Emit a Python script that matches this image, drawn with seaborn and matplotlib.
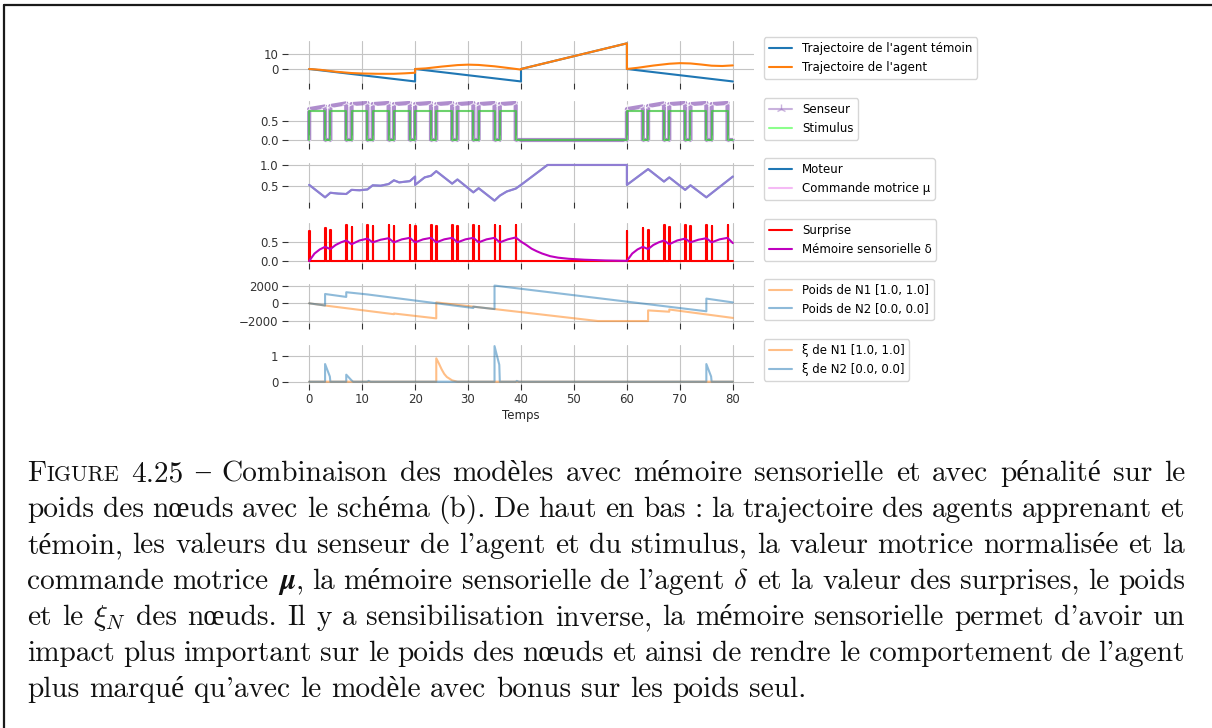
import numpy as np
import pandas as pd
import seaborn as sns
import matplotlib.pyplot as plt
from matplotlib.lines import Line2D

# ---------------------------------------------------------------- data
# trajectories
traj_ctrl_t = [0, 20, 20, 40, 40, 60, 60, 80]
traj_ctrl_y = [0, -8.3, 0, -8.3, 0, 17.1, 0, -8.3]
traj_agent_t = [0, 2, 5, 8, 10, 13, 16, 18, 20, 20, 22, 25, 28, 30, 32, 35, 38, 40,
                40, 60, 60, 62, 65, 68, 70, 72, 74, 76, 78, 80]
traj_agent_y = [0, -0.5, -1.8, -2.7, -3.0, -3.2, -3.2, -2.9, -2.5, 0, 0.4, 1.6, 2.6, 2.9,
                2.7, 1.8, 0.5, -0.4, 0, 17.1, 0, 0.8, 2.3, 3.5, 3.9, 3.7, 3.0, 2.2, 2.0, 2.4]

# stimulus on-phases and sensor readings during them
stim_on_start = [0, 4, 8, 12, 16, 20, 24, 28, 32, 36, 60, 64, 68, 72, 76]
stim_on_end = [3, 7, 11, 15, 19, 23, 27, 31, 35, 39, 63, 67, 71, 75, 79]
stim_level = 0.75
sensor_first = [0.80, 0.88, 0.93, 0.93, 0.93, 0.93, 0.93, 0.93, 0.93, 0.93,
                0.80, 0.88, 0.93, 0.93, 0.93]
sensor_last = [0.87, 0.95, 0.96, 0.96, 0.96, 0.96, 0.96, 0.96, 0.96, 0.96,
               0.87, 0.95, 0.96, 0.96, 0.96]

# motor value / motor command
motor_t = [0, 3, 4, 5.5, 7, 8, 9.5, 11, 12, 13.5, 15, 16, 17, 19, 20, 20, 21.8, 23, 24,
           27, 28, 31, 32, 35, 36, 37.3, 39, 40, 45, 60, 60, 64, 67, 68, 71, 72, 75, 80]
motor_v = [0.52, 0.22, 0.33, 0.31, 0.30, 0.40, 0.39, 0.41, 0.51, 0.50, 0.54, 0.63, 0.58,
           0.61, 0.72, 0.52, 0.70, 0.74, 0.85, 0.55, 0.65, 0.34, 0.44, 0.14, 0.26, 0.36,
           0.43, 0.52, 1.0, 1.0, 0.52, 0.90, 0.60, 0.70, 0.40, 0.51, 0.22, 0.72]

# surprise spikes and sensory memory
surprise_t = [0, 3, 4, 7, 8, 11, 12, 15, 16, 19, 20, 23, 24, 27, 28, 31, 32, 35, 36, 39,
              60, 63, 64, 67, 68, 71, 72, 75, 76, 79]
surprise_h = [0.79, 0.89, 0.83, 0.96, 0.90, 0.96, 0.94, 0.96, 0.94, 0.96, 0.94, 0.96,
              0.94, 0.96, 0.94, 0.97, 0.94, 0.97, 0.94, 0.97, 0.79, 0.89, 0.83, 0.96,
              0.90, 0.96, 0.93, 0.96, 0.94, 0.96]
memory_t = [0, 1, 2, 3, 4, 5, 6, 7, 8, 9.5, 11, 12, 13.5, 15, 16, 17.5, 19, 20, 21.5, 23,
            24, 25.5, 27, 28, 29.5, 31, 32, 33.5, 35, 36, 37.5, 39, 40, 41, 42, 43, 44,
            45.5, 47, 49, 52, 56, 60, 61, 62, 63, 64, 65, 66, 67, 68, 69.5, 71, 72, 73.5,
            75, 76, 77.5, 79, 80]
memory_v = [0, 0.2, 0.31, 0.38, 0.32, 0.43, 0.5, 0.55, 0.45, 0.55, 0.6, 0.5, 0.57, 0.61,
            0.5, 0.58, 0.62, 0.5, 0.58, 0.62, 0.5, 0.58, 0.62, 0.5, 0.58, 0.62, 0.5, 0.58,
            0.62, 0.5, 0.58, 0.63, 0.52, 0.43, 0.33, 0.26, 0.2, 0.13, 0.09, 0.06, 0.035,
            0.015, 0.005, 0.2, 0.31, 0.38, 0.32, 0.43, 0.5, 0.55, 0.45, 0.55, 0.6, 0.5,
            0.57, 0.61, 0.5, 0.58, 0.62, 0.48]

# node weights
w_n1_t = [0, 3, 16, 16, 24, 24, 31, 35, 54.5, 64, 64, 68, 68, 80]
w_n1_v = [0, -250, -1230, -1150, -1700, 100, -380, -650, -2000, -2000, -800, -950, -700, -1650]
w_n2_t = [0, 3, 3, 7, 7, 11, 31, 31, 35, 35, 75, 75, 80]
w_n2_v = [0, -250, 1050, 720, 1250, 1000, -530, -380, -650, 2000, -900, 530, 100]

# node xi
xi_n1_t = [0, 24, 24, 24.5, 25, 25.5, 26, 27, 28, 80]
xi_n1_v = [0, 0, 0.9, 0.7, 0.48, 0.3, 0.18, 0.05, 0, 0]
xi_n2_t = [0, 3, 3, 3.9, 4, 7, 7, 8, 8.3, 11, 11.2, 11.6, 35, 35, 35.9, 36, 39, 39.2,
           39.6, 75, 75, 75.9, 76, 80]
xi_n2_v = [0, 0, 0.68, 0.2, 0, 0, 0.27, 0.05, 0, 0, 0.03, 0, 0, 1.37, 0.65, 0, 0, 0.03,
           0, 0, 0.68, 0.2, 0, 0]

CAPTION_LINES = [
    "FIGURE 4.25 – Combinaison des modèles avec mémoire sensorielle et avec pénalité sur le",
    "poids des nœuds avec le schéma (b). De haut en bas : la trajectoire des agents apprenant et",
    "témoin, les valeurs du senseur de l'agent et du stimulus, la valeur motrice normalisée et la",
    r"commande motrice $\boldsymbol{\mu}$, la mémoire sensorielle de l'agent $\delta$ et la valeur des surprises, le poids",
    r"et le $\xi_N$ des nœuds. Il y a sensibilisation inverse, la mémoire sensorielle permet d'avoir un",
    "impact plus important sur le poids des nœuds et ainsi de rendre le comportement de l'agent",
    "plus marqué qu'avec le modèle avec bonus sur les poids seul.",
]

# ---------------------------------------------------------------- derived series
stim_t, stim_v, sens_t, sens_v = [0], [0], [0], [0]
for s, e, a, b in zip(stim_on_start, stim_on_end, sensor_first, sensor_last):
    stim_t += [s, s, e, e]
    stim_v += [0, stim_level, stim_level, 0]
    sens_t += [s, s, e, e]
    sens_v += [0, a, b, 0]
stim_t.append(80); stim_v.append(0)
sens_t.append(80); sens_v.append(0)

spk_t, spk_v = [0], [0]
for t, h in zip(surprise_t, surprise_h):
    spk_t += [t, t, t + 0.1, t + 0.1]
    spk_v += [0, h, h, 0]
spk_t.append(80); spk_v.append(0)

# ---------------------------------------------------------------- style
sns.set_style("whitegrid", {
    "axes.spines.left": False, "axes.spines.bottom": False,
    "axes.spines.right": False, "axes.spines.top": False,
    "grid.color": "#c4c4c4", "text.color": "black",
    "xtick.color": "#333333", "ytick.color": "#333333",
    "xtick.bottom": True, "ytick.left": True,
})
plt.rcParams["mathtext.fontset"] = "cm"
plt.rcParams["axes.unicode_minus"] = True

W, H = 1212, 728
fig = plt.figure(figsize=(W / 100, H / 100), dpi=100)
FS = 8.5


def make_axes(top, bottom):
    return fig.add_axes([288 / W, 1 - bottom / H, 466 / W, (bottom - top) / H])


def line(ax, t, v, **kw):
    df = pd.DataFrame({"t": t, "v": v})
    sns.lineplot(data=df, x="t", y="v", ax=ax, sort=False, estimator=None,
                 legend=False, **kw)


specs = [(41.4, 83.4, (-9.6, 18.4), [0, 10], 37.3),
         (101.4, 142.7, (-0.07, 1.0), [0.0, 0.5], 98.3),
         (163.1, 202.3, (0.1, 1.045), [0.5, 1.0], 158.3),
         (222.9, 262.9, (-0.05, 1.02), [0.0, 0.5], 219.3),
         (283.8, 322.8, (-2200, 2200), [-2000, 0, 2000], 279.0),
         (344.8, 383.5, (-0.07, 1.42), [0, 1], 339.3)]
axes = [make_axes(top, bot) for top, bot, *_ in specs]

line(axes[0], traj_ctrl_t, traj_ctrl_y, color="tab:blue", lw=1.5,
     label="Trajectoire de l'agent témoin")
line(axes[0], traj_agent_t, traj_agent_y, color="tab:orange", lw=1.5,
     label="Trajectoire de l'agent")

line(axes[1], sens_t, sens_v, color="tab:purple", alpha=0.75, lw=3,
     marker="2", markersize=7, label="Senseur")
line(axes[1], stim_t, stim_v, color="#3cc43c", alpha=0.75, lw=1.5, label="Stimulus")

line(axes[2], motor_t, motor_v, color="tab:blue", lw=1.5, label="Moteur")
line(axes[2], motor_t, motor_v, color="violet", alpha=0.55, lw=1.5,
     label="Commande motrice μ")

line(axes[3], spk_t, spk_v, color="red", lw=1.5, label="Surprise")
line(axes[3], memory_t, memory_v, color="m", lw=1.5, label="Mémoire sensorielle δ")

line(axes[4], w_n1_t, w_n1_v, color="tab:orange", alpha=0.5, lw=1.5,
     label="Poids de N1 [1.0, 1.0]")
line(axes[4], w_n2_t, w_n2_v, color="tab:blue", alpha=0.5, lw=1.5,
     label="Poids de N2 [0.0, 0.0]")

line(axes[5], xi_n1_t, xi_n1_v, color="tab:orange", alpha=0.5, lw=1.5,
     label="ξ de N1 [1.0, 1.0]")
line(axes[5], xi_n2_t, xi_n2_v, color="tab:blue", alpha=0.5, lw=1.5,
     label="ξ de N2 [0.0, 0.0]")

for i, (ax, (top, bot, ylim, yt, leg_top)) in enumerate(zip(axes, specs)):
    ax.set_xlim(-4, 84)
    ax.set_ylim(*ylim)
    ax.set_xticks(range(0, 81, 10))
    ax.set_yticks(yt)
    if i in (1, 2, 3):
        ax.set_yticklabels([f"{v:.1f}" for v in yt])
    ax.tick_params(axis="both", length=4, width=0.8, labelsize=FS, pad=3)
    ax.set_ylabel("")
    if i < 5:
        ax.set_xlabel("")
        ax.tick_params(axis="x", labelbottom=False)
    else:
        ax.set_xlabel("Temps", fontsize=FS, labelpad=2)
    handles, labels = ax.get_legend_handles_labels()
    if i == 1:
        handles[0] = Line2D([], [], color="tab:purple", alpha=0.5, lw=1.5,
                            marker="2", markersize=7)
        handles[1] = Line2D([], [], color="lime", alpha=0.45, lw=1.5)
    ax.legend(handles, labels, loc="upper left", fontsize=FS,
              bbox_to_anchor=(764 / W, 1 - leg_top / H),
              bbox_transform=fig.transFigure, borderaxespad=0)

# ---------------------------------------------------------------- caption
CAP_FONT = ["cmr10", "Liberation Serif"]
CAP_FS = 21.1
renderer = fig.canvas.get_renderer()
x_left, x_right = 27, 1185
for i, text_line in enumerate(CAPTION_LINES):
    y = 1 - (481 + i * 36) / H
    words = text_line.split(" ")
    groups, widths = [], []
    for w in words:
        parts = [("F", 1.0), ("IGURE", 0.75)] if w == "FIGURE" else [(w, 1.0)]
        arts, total = [], 0
        for s, k in parts:
            t = fig.text(0, y, s, fontsize=CAP_FS * k, family=CAP_FONT,
                         va="baseline", ha="left", color="#111111")
            wd = t.get_window_extent(renderer).width
            arts.append((t, wd))
            total += wd
        groups.append(arts)
        widths.append(total)
    last = i == len(CAPTION_LINES) - 1
    if last:
        gap = 0.333 * CAP_FS * 100 / 72
    else:
        gap = (x_right - x_left - sum(widths)) / (len(words) - 1)
    x = x_left
    for arts in groups:
        for t, wd in arts:
            t.set_x(x / W)
            x += wd
        x += gap

# frame edges
fig.add_artist(Line2D([4 / W, 4 / W], [0, 1 - 5 / H], color="#1a1a1a", lw=1.6,
                      transform=fig.transFigure))
fig.add_artist(Line2D([4 / W, 1], [1 - 5 / H, 1 - 5 / H], color="#1a1a1a", lw=1.6,
                      transform=fig.transFigure))

fig.savefig("out.png", dpi=100)
